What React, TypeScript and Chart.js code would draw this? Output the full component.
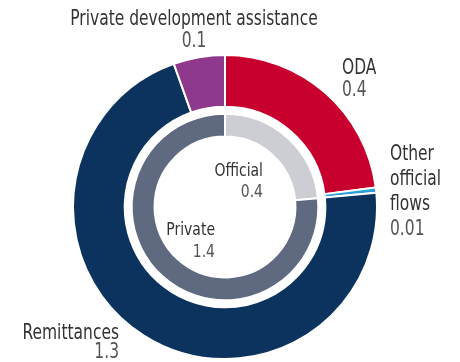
import React, { useEffect, useRef } from "react";
import { Chart, registerables } from "chart.js";

Chart.register(...registerables);

const outerLabels = ["ODA", "Other official flows", "Remittances", "Private development assistance"];
const outerValues = [0.42, 0.01, 1.3, 0.1];
const outerColors = ["#C8002D", "#2B9FD8", "#0B335E", "#8E398C"];

const innerLabels = ["Official", "Private"];
const innerValues = [0.43, 1.4];
const innerColors = ["#CDCED4", "#5F6A80"];

const FONT = "'DejaVu Sans Condensed', 'DejaVu Sans', sans-serif";
const LABEL_COLOR = "#333333";
const VALUE_COLOR = "#555555";
const SX = 0.84;

type TextItem = { lines: string[]; value: string; x: number; y: number; align: CanvasTextAlign; size: number; lh: number };

const textItems: TextItem[] = [
  { lines: ["Private development assistance"], value: "0.1", x: 194, y: 25, align: "center", size: 20.5, lh: 22 },
  { lines: ["ODA"], value: "0.4", x: 342, y: 74, align: "left", size: 20.5, lh: 22 },
  { lines: ["Other", "official", "flows"], value: "0.01", x: 390, y: 160, align: "left", size: 20.5, lh: 25 },
  { lines: ["Remittances"], value: "1.3", x: 119, y: 339, align: "right", size: 20.5, lh: 19 },
  { lines: ["Official"], value: "0.4", x: 263, y: 176, align: "right", size: 18.5, lh: 21 },
  { lines: ["Private"], value: "1.4", x: 215, y: 235, align: "right", size: 18.5, lh: 22 },
];

const labelPlugin = {
  id: "labelPlugin",
  afterDraw(chart: Chart) {
    const ctx = chart.ctx;
    ctx.save();
    ctx.textBaseline = "alphabetic";
    const draw = (s: string, x: number, y: number) => {
      ctx.save();
      ctx.translate(x, y);
      ctx.scale(SX, 1);
      ctx.fillText(s, 0, 0);
      ctx.restore();
    };
    for (const t of textItems) {
      ctx.textAlign = t.align;
      ctx.font = `${t.size}px ${FONT}`;
      let y = t.y;
      ctx.fillStyle = LABEL_COLOR;
      for (const l of t.lines) {
        draw(l, t.x, y);
        y += t.lh;
      }
      ctx.fillStyle = VALUE_COLOR;
      draw(t.value, t.x, y);
    }
    ctx.restore();
  },
};

export default function App() {
  const ref = useRef<HTMLCanvasElement | null>(null);
  useEffect(() => {
    if (!ref.current) return;
    const chart = new Chart(ref.current, {
      type: "doughnut",
      data: {
        labels: outerLabels,
        datasets: [
          { label: "Flows", data: outerValues, backgroundColor: outerColors, borderColor: "#ffffff", borderWidth: 2, weight: 52 } as any,
          { label: "gap", data: [1], backgroundColor: ["rgba(0,0,0,0)"], borderWidth: 0, weight: 7 } as any,
          { label: innerLabels.join("/"), data: innerValues, backgroundColor: innerColors, borderColor: "#ffffff", borderWidth: 2, weight: 23 } as any,
        ],
      },
      options: {
        animation: false,
        responsive: false,
        maintainAspectRatio: false,
        cutout: 70,
        radius: 152,
        layout: { padding: { left: 73, right: 83, top: 55, bottom: 3 } },
        plugins: { legend: { display: false }, tooltip: { enabled: false } },
        events: [],
      } as any,
      plugins: [labelPlugin],
    });
    return () => chart.destroy();
  }, []);
  return (
    <div style={{ position: "fixed", left: 0, top: 0, width: 460, height: 362, background: "#fff" }}>
      <canvas ref={ref} width={460} height={362} style={{ width: 460, height: 362, display: "block" }} />
    </div>
  );
}
